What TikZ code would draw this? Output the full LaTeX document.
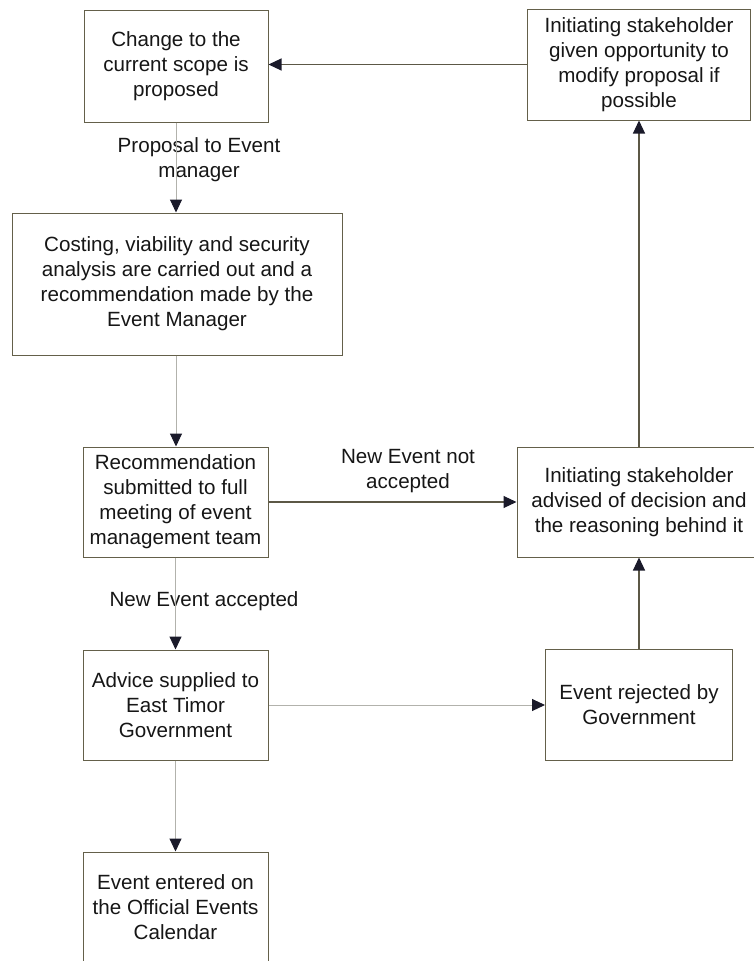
\documentclass[tikz,border=0pt]{standalone}
\usepackage{fontspec}
\setmainfont{Liberation Sans}
\usetikzlibrary{arrows.meta}
\definecolor{boxline}{RGB}{100,96,74}
\definecolor{faintline}{RGB}{178,178,172}
\definecolor{darkline}{RGB}{92,88,70}
\definecolor{tipcol}{RGB}{26,26,42}
\definecolor{inkcol}{RGB}{22,22,22}
\begin{document}
\begin{tikzpicture}[x=1pt,y=-1pt,
  txt/.style={font=\fontsize{20.6}{25}\selectfont, text=inkcol, align=center, inner sep=0pt},
  stepbox/.style={txt, draw=boxline, line width=1pt, fill=white},
  tip/.style={-{Triangle[length=13pt,width=12pt,color=tipcol,fill=tipcol]}},
  faintarrow/.style={tip, draw=faintline, line width=1pt},
  darkarrow/.style={tip, draw=darkline, line width=1.1pt}]
\useasboundingbox (0,0) rectangle (754,961);

% process boxes
\node[stepbox, minimum width=184pt, minimum height=112pt] (b1) at (176,66)
  {Change to the\\current scope is\\proposed};
\node[stepbox, minimum width=223pt, minimum height=111pt] (b2) at (639,64.5)
  {Initiating stakeholder\\given opportunity to\\modify proposal if\\possible};
\node[stepbox, minimum width=330pt, minimum height=142pt] (b3) at (177,284)
  {Costing, viability and security\\analysis are carried out and a\\recommendation made by the\\Event Manager};
\node[stepbox, minimum width=185pt, minimum height=110pt] (b4) at (175.5,502)
  {Recommendation\\submitted to full\\meeting of event\\management team};
\node[stepbox, minimum width=244pt, minimum height=110pt] (b5) at (639,502)
  {Initiating stakeholder\\advised of decision and\\the reasoning behind it};
\node[stepbox, minimum width=185pt, minimum height=110pt] (b6) at (175.5,705)
  {Advice supplied to\\East Timor\\Government};
\node[stepbox, minimum width=187pt, minimum height=111pt] (b7) at (639,705)
  {Event rejected by\\Government};
\node[stepbox, minimum width=185pt, minimum height=111pt] (b8) at (175.5,907.5)
  {Event entered on\\the Official Events\\Calendar};

% connector labels
\node[txt] (l1) at (199,160) {Proposal to Event\\manager};
\node[txt] (l2) at (408,471) {New Event not\\accepted};
\node[txt] (l3) at (204,601) {New Event accepted};

% connectors
\draw[faintarrow] (b1.south) -- (b1.south |- b3.north);
\draw[faintarrow] (b3.south -| b1.south) -- (b1.south |- b4.north);
\draw[faintarrow] (b4.south) -- (b6.north);
\draw[faintarrow] (b6.south) -- (b8.north);
\draw[faintarrow] (b6.east) -- (b7.west);
\draw[darkarrow] (b4.east) -- (b5.west);
\draw[darkarrow] (b7.north) -- (b5.south);
\draw[darkarrow] (b5.north) -- (b2.south);
\draw[darkarrow] (b2.west) -- (b2.west -| b1.east);
\end{tikzpicture}
\end{document}
